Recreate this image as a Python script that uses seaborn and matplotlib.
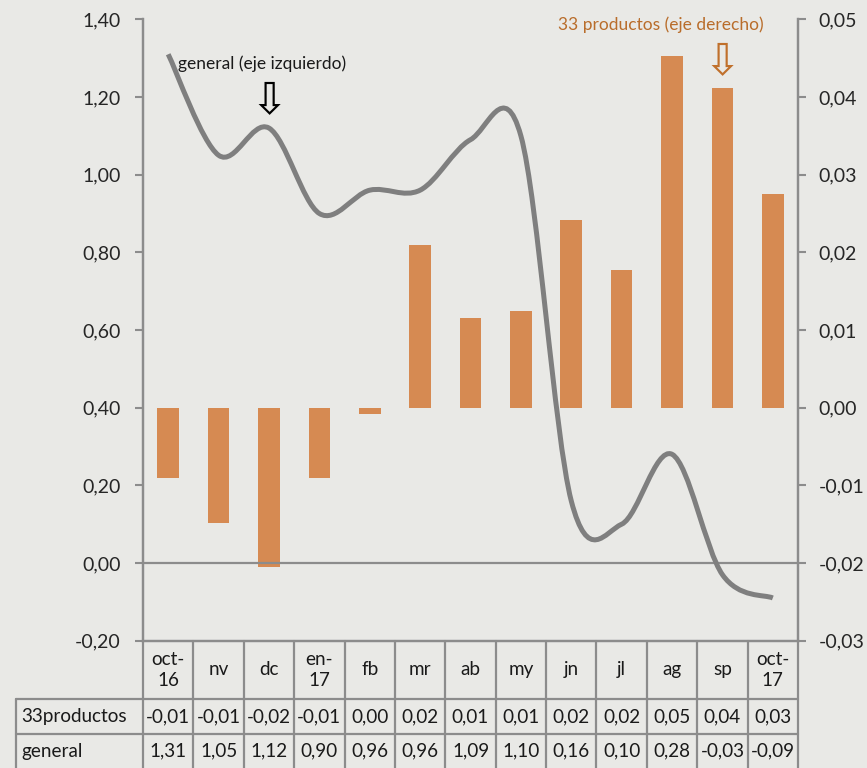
import numpy as np
import matplotlib
matplotlib.use("Agg")
import matplotlib.pyplot as plt
from matplotlib.path import Path
from matplotlib.patches import PathPatch
from matplotlib.ticker import FuncFormatter
import seaborn as sns

# --- data ---
meses = ["oct-\n16", "nv", "dc", "en-\n17", "fb", "mr", "ab", "my", "jn", "jl", "ag", "sp", "oct-\n17"]
productos33 = [-0.0091, -0.0148, -0.0205, -0.0090, -0.0008, 0.0209, 0.0115, 0.0124,
               0.0241, 0.0177, 0.0453, 0.0412, 0.0275]
general = [1.31, 1.05, 1.12, 0.90, 0.96, 0.96, 1.09, 1.10, 0.16, 0.10, 0.28, -0.03, -0.09]
filas = ["33productos", "general"]

bar_color = "#d68a52"
line_color = "#7f7f7f"
grid_color = "#8c8c8c"
FONT = ["Lato", "DejaVu Sans"]

sns.set_style("white")
plt.rcParams["font.family"] = FONT
plt.rcParams["text.color"] = "#1a1a1a"

W, H = 867, 768
fig = plt.figure(figsize=(W / 100, H / 100), dpi=100, facecolor="#e9e9e6")

# plot area in pixels
x0, x1, ytop, ybot = 143, 798, 19.3, 640.7
ax = fig.add_axes([x0 / W, 1 - ybot / H, (x1 - x0) / W, (ybot - ytop) / H])
ax2 = ax.twinx()

def coma(v, pos=None):
    v = round(v, 2) + 0.0
    return f"{v:.2f}".replace(".", ",")

# bars on the right axis
xs = np.arange(len(meses))
sns.barplot(x=xs, y=productos33, ax=ax2, color=bar_color, saturation=1, width=0.43,
            native_scale=True, edgecolor="none")
ax2.set_ylim(-0.03, 0.05)
ax2.set_yticks(np.arange(-0.03, 0.0501, 0.01))
ax2.yaxis.set_major_formatter(FuncFormatter(coma))
ax2.set_ylabel("")

# smoothed line (Excel style bezier) on the left axis
pts = np.column_stack([xs, general]).astype(float)
verts = [tuple(pts[0])]
codes = [Path.MOVETO]
n = len(pts)
for i in range(n - 1):
    p_prev = pts[max(i - 1, 0)]
    p0, p1 = pts[i], pts[i + 1]
    p_next = pts[min(i + 2, n - 1)]
    c1 = p0 + (p1 - p_prev) / 6
    c2 = p1 - (p_next - p0) / 6
    verts += [tuple(c1), tuple(c2), tuple(p1)]
    codes += [Path.CURVE4] * 3
ax.add_patch(PathPatch(Path(verts, codes), facecolor="none", edgecolor=line_color,
                       lw=3.6, capstyle="butt", joinstyle="round", zorder=3))
ax.axhline(0, color=grid_color, lw=1.6, zorder=2)

ax.set_ylim(-0.2, 1.4)
ax.set_yticks(np.arange(-0.2, 1.401, 0.2))
ax.yaxis.set_major_formatter(FuncFormatter(coma))
ax.set_xlim(-0.5, len(meses) - 0.5)
ax2.set_xlim(-0.5, len(meses) - 0.5)
ax.set_xticks([])
ax2.set_xticks([])
ax2.set_xlabel("")

ax.set_zorder(ax2.get_zorder() + 1)
ax.patch.set_visible(False)
ax2.patch.set_facecolor("#f2f2f0")

for a in (ax, ax2):
    for s in a.spines.values():
        s.set_color(grid_color)
        s.set_linewidth(1.6)
    a.spines["top"].set_visible(False)
ax.tick_params(axis="y", direction="out", length=6, width=1.5, color=grid_color,
               labelsize=14, pad=10, left=True)
ax2.tick_params(axis="y", direction="out", length=6, width=1.5, color=grid_color,
                labelsize=14, pad=9, right=True)

# annotations
ax.text(1.86, 1.285, "general (eje izquierdo)", ha="center", va="center", fontsize=12.5)
ax.text(2, 1.19, "\u21e9", ha="center", va="center", fontsize=32, family="DejaVu Sans",
        color="black")
ax2.text(9.78, 0.0493, "33 productos (eje derecho)", ha="center", va="center",
         fontsize=12.5, color="#b96d2b")
ax2.text(11, 0.0446, "\u21e9", ha="center", va="center", fontsize=32, family="DejaVu Sans",
         color="#c0702c")

# --- data table ---
tx0 = 16
cw = (x1 - x0) / len(meses)
tab = fig.add_axes([tx0 / W, 0, (x1 - tx0) / W, (H - ybot) / H])
xl = -0.5 - (x0 - tx0) / cw
tab.set_xlim(xl, len(meses) - 0.5)
tab.set_ylim(0, 1)
tab.axis("off")
r1 = (H - 699) / (H - ybot)
r2 = (H - 734) / (H - ybot)
kw = dict(color=grid_color, lw=1.6, clip_on=False)
for b in np.arange(-0.5, len(meses), 1.0):
    tab.plot([b, b], [0, 1], **kw)
tab.plot([xl, xl], [0, r1], **kw)
tab.plot([xl, len(meses) - 0.5], [r1, r1], **kw)
tab.plot([xl, len(meses) - 0.5], [r2, r2], **kw)

fs = 13.6
for i, m in enumerate(meses):
    tab.text(i, (1 + r1) / 2, m, ha="center", va="center", fontsize=fs, linespacing=1.25)
    tab.text(i, (r1 + r2) / 2, coma(productos33[i]), ha="center", va="center", fontsize=fs)
    tab.text(i, r2 / 2, coma(general[i]), ha="center", va="center", fontsize=fs)
tab.text(xl + 0.1, (r1 + r2) / 2, filas[0], ha="left", va="center", fontsize=fs)
tab.text(xl + 0.1, r2 / 2, filas[1], ha="left", va="center", fontsize=fs)

fig.savefig("out.png", dpi=100, facecolor=fig.get_facecolor())
